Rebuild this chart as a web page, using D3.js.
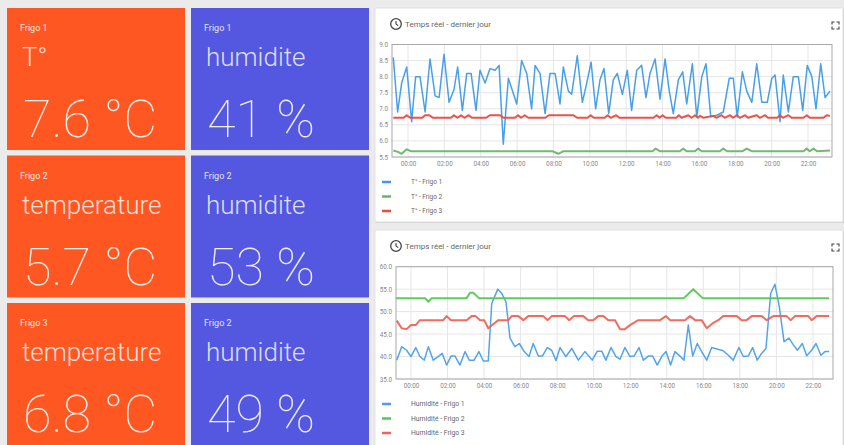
<!DOCTYPE html>
<html><head><meta charset="utf-8">
<script src="https://cdn.jsdelivr.net/npm/d3@7"></script>
<style>
html,body{margin:0;padding:0;background:#ececec;}
svg{display:block;font-family:Roboto,"Noto Sans",sans-serif;}
</style></head>
<body>
<svg id="c" width="844" height="445"></svg>
<script>
// ---------- tiles ----------
const tileLabels = ["Frigo 1","Frigo 1","Frigo 2","Frigo 2","Frigo 3","Frigo 2"];
const tileTitles = ["T°","humidite","temperature","humidite","temperature","humidite"];
const tileValues = ["7.6 °C","41 %","5.7 °C","53 %","6.8 °C","49 %"];
const tileKinds  = ["temp","hum","temp","hum","temp","hum"];

// ---------- temperature chart (hours relative to 00:00) ----------
const tempTitle = "Temps réel - dernier jour";
const tempYTicks = [5.5,6.0,6.5,7.0,7.5,8.0,8.5,9.0];
const tempNames = ["T° - Frigo 1","T° - Frigo 2","T° - Frigo 3"];
const temp1 = [[-0.81,8.6],[-0.57,6.9],[-0.35,7.8],[-0.07,8.3],[0.20,6.6],[0.42,8.0],[0.66,8.0],[0.94,6.9],[1.21,8.55],[1.49,7.4],[1.71,7.35],[1.98,8.7],[2.26,7.2],[2.53,7.6],[2.73,8.3],[2.99,6.95],[3.23,8.1],[3.47,8.1],[3.74,6.95],[3.96,8.2],[4.24,7.8],[4.51,8.25],[4.79,8.2],[5.01,8.35],[5.24,5.9],[5.52,7.95],[5.98,7.15],[6.25,8.5],[6.53,8.1],[6.80,7.0],[6.99,8.35],[7.26,8.1],[7.54,6.85],[7.81,8.1],[8.09,8.1],[8.36,7.15],[8.54,8.3],[8.82,7.55],[9.00,7.45],[9.31,8.65],[9.59,7.2],[9.83,7.8],[10.07,8.45],[10.32,7.0],[10.56,7.9],[10.78,8.25],[11.04,6.85],[11.29,7.9],[11.51,8.1],[11.79,7.45],[12.06,8.2],[12.30,6.95],[12.58,8.2],[12.85,8.35],[13.09,7.35],[13.31,8.1],[13.59,8.55],[13.86,7.3],[14.14,8.55],[14.37,7.55],[14.59,6.85],[14.87,7.9],[15.11,8.15],[15.33,7.15],[15.64,8.4],[15.88,6.75],[16.16,8.0],[16.39,8.4],[16.65,6.75],[16.98,6.8],[17.34,6.9],[17.67,7.95],[17.89,7.95],[18.11,6.75],[18.39,8.15],[18.63,7.55],[18.91,7.2],[19.18,8.4],[19.46,7.2],[19.76,7.2],[20.01,7.95],[20.19,8.05],[20.46,6.6],[20.64,8.05],[20.92,6.9],[21.19,8.0],[21.47,8.0],[21.71,6.95],[21.96,8.35],[22.21,8.0],[22.44,7.0],[22.70,8.4],[22.94,7.35],[23.21,7.55]];
const temp2 = [[-0.81,5.7],[-0.55,5.66],[-0.35,5.6],[-0.07,5.74],[0.15,5.68],[7.95,5.68],[8.27,5.6],[8.55,5.68],[13.45,5.68],[13.62,5.76],[13.85,5.68],[14.95,5.68],[15.14,5.76],[15.32,5.68],[15.78,5.68],[15.96,5.76],[16.15,5.68],[17.15,5.68],[17.34,5.76],[17.55,5.68],[18.4,5.68],[18.63,5.76],[18.9,5.68],[21.75,5.68],[21.93,5.76],[22.1,5.68],[22.3,5.76],[22.5,5.68],[23.21,5.7]];
const temp3 = [[-0.81,6.72],[-0.25,6.72],[-0.07,6.8],[0.12,6.72],[0.78,6.72],[0.94,6.8],[1.18,6.8],[1.36,6.72],[2.36,6.72],[2.53,6.8],[2.72,6.72],[2.92,6.8],[3.1,6.72],[3.33,6.8],[3.52,6.72],[4.3,6.72],[4.5,6.8],[5.06,6.8],[5.26,6.72],[5.88,6.72],[6.05,6.8],[6.22,6.72],[6.42,6.8],[6.62,6.72],[7.55,6.72],[7.75,6.8],[9.1,6.8],[9.3,6.72],[9.88,6.72],[10.05,6.8],[10.22,6.72],[10.82,6.72],[10.98,6.8],[11.15,6.72],[11.45,6.8],[11.62,6.72],[13.5,6.72],[13.68,6.8],[13.84,6.72],[14.0,6.8],[14.18,6.72],[14.75,6.72],[14.9,6.8],[15.05,6.72],[15.42,6.8],[15.6,6.72],[15.79,6.8],[15.95,6.72],[16.06,6.78],[16.25,6.72],[16.79,6.78],[16.95,6.72],[17.25,6.8],[17.42,6.72],[17.71,6.8],[17.88,6.72],[18.08,6.8],[18.25,6.72],[18.54,6.8],[18.7,6.72],[19.18,6.8],[19.35,6.72],[19.64,6.8],[19.8,6.72],[20.3,6.72],[20.46,6.8],[20.62,6.72],[20.92,6.8],[21.1,6.72],[21.75,6.72],[21.93,6.8],[22.1,6.72],[22.85,6.72],[23.03,6.8],[23.21,6.78]];

// ---------- humidity chart ----------
const humTitle = "Temps réel - dernier jour";
const humYTicks = [35,40,45,50,55,60];
const humNames = ["Humidité - Frigo 1","Humidité - Frigo 2","Humidité - Frigo 3"];
const hum1 = [[-0.78,39.2],[-0.51,42.2],[-0.24,41.4],[0,40.0],[0.26,42.0],[0.49,40.0],[0.73,39.2],[0.95,42.2],[1.22,39.2],[1.49,40.0],[1.71,40.7],[1.95,38.1],[2.19,40.1],[2.41,40.1],[2.68,38.1],[2.96,41.1],[3.19,39.2],[3.46,39.2],[3.72,41.1],[3.96,39.0],[4.23,39.0],[4.42,51.8],[4.75,55.0],[4.96,54.1],[5.20,52.2],[5.42,44.1],[5.69,42.2],[5.93,42.9],[6.20,41.1],[6.46,40.0],[6.69,42.9],[6.97,40.1],[7.19,40.1],[7.46,42.0],[7.70,41.4],[7.94,39.1],[8.16,42.0],[8.48,40.0],[8.80,41.8],[9.16,39.2],[9.52,41.1],[9.92,39.2],[10.20,41.2],[10.44,41.2],[10.67,39.2],[10.95,42.0],[11.22,40.0],[11.44,39.4],[11.71,42.0],[11.99,40.0],[12.21,40.1],[12.48,42.0],[12.72,39.2],[12.99,40.1],[13.23,40.1],[13.48,38.1],[13.72,40.0],[13.96,41.1],[14.21,38.1],[14.45,41.1],[14.72,40.1],[14.94,39.2],[15.18,47.0],[15.42,40.1],[15.67,42.9],[15.91,41.1],[16.19,39.2],[16.46,42.0],[17.09,41.3],[17.37,40.3],[17.64,39.2],[17.95,42.0],[18.19,40.0],[18.46,40.1],[18.70,42.0],[18.95,39.2],[19.19,40.7],[19.43,41.8],[19.69,54.1],[19.92,56.1],[20.16,51.1],[20.42,43.3],[20.69,44.1],[20.93,42.6],[21.15,41.4],[21.42,42.9],[21.66,40.2],[21.93,41.4],[22.17,42.9],[22.44,40.3],[22.66,41.1],[22.89,41.1]];
const hum2 = [[-0.82,53.0],[0.77,53.0],[0.95,52.2],[1.13,53.0],[3.05,53.0],[3.23,54.2],[3.41,54.2],[3.72,53.0],[14.94,53.0],[15.45,55.0],[15.97,53.0],[22.89,53.0]];
const hum3 = [[-0.78,48.0],[-0.51,46.3],[-0.24,46.1],[0.0,47.0],[0.26,47.0],[0.49,48.1],[1.77,48.1],[1.95,49.0],[2.19,48.1],[3.05,48.1],[3.32,49.0],[3.54,49.0],[3.78,48.1],[4.01,48.1],[4.23,46.3],[4.50,47.2],[4.78,48.1],[5.33,48.1],[5.51,49.0],[5.87,49.0],[6.15,48.1],[6.42,49.0],[7.24,49.0],[7.48,48.1],[7.70,49.0],[8.43,49.0],[8.66,48.1],[8.92,49.0],[9.43,49.0],[9.70,48.1],[9.98,48.1],[10.25,49.0],[10.53,49.0],[10.80,48.1],[11.17,48.1],[11.44,46.1],[11.71,46.1],[11.99,47.0],[12.44,48.1],[13.63,48.1],[13.96,49.0],[14.18,48.1],[15.00,48.1],[15.27,49.0],[15.55,48.1],[15.91,48.1],[16.19,46.3],[16.55,47.5],[16.82,48.1],[17.09,49.0],[17.83,49.0],[18.10,48.1],[18.37,48.1],[18.65,49.0],[19.20,49.0],[19.47,48.1],[19.83,49.0],[20.56,49.0],[20.78,48.1],[21.02,49.0],[21.75,49.0],[21.93,48.1],[22.20,49.0],[22.89,49.0]];

const base = new Date(2024,0,2,0,0,0);
const toDate = h => new Date(base.getTime() + h*3600000);

const svg = d3.select("#c");
svg.append("rect").attr("width",844).attr("height",445).attr("fill","#ebebeb");

// tiles
const tileColor = {temp:"#FF5722", hum:"#5457E0"};
tileLabels.forEach((lab,i)=>{
  const r = Math.floor(i/2), c = i%2;
  const x = 7 + c*184, y = 8 + r*147.5;
  const g = svg.append("g").attr("transform",`translate(${x},${y})`);
  g.append("rect").attr("width",178).attr("height",142).attr("fill",tileColor[tileKinds[i]]);
  g.append("text").attr("x",13).attr("y",23).attr("font-size",9).attr("font-weight",400)
    .attr("fill","rgba(255,255,255,0.88)").text(lab);
  g.append("text").attr("x",15).attr("y",58).attr("font-size",26).attr("font-weight",300)
    .attr("fill","rgba(255,255,255,0.82)").text(tileTitles[i]);
  g.append("text").attr("x",16).attr("y",129).attr("font-size",52).attr("font-weight",100)
    .attr("fill","rgba(255,255,255,0.9)").text(tileValues[i]);
});

function drawCard(cfg){
  const g = svg.append("g");
  g.append("rect").attr("x",cfg.cx+1).attr("y",cfg.cy+1).attr("width",cfg.cw).attr("height",cfg.ch).attr("fill","#d2d2d2");
  g.append("rect").attr("x",cfg.cx).attr("y",cfg.cy).attr("width",cfg.cw).attr("height",cfg.ch)
    .attr("fill","#fff").attr("stroke","#dcdcdc").attr("stroke-width",0.8);
  const ic = g.append("g").attr("transform",`translate(${cfg.cx+21},${cfg.cy+16})`);
  ic.append("circle").attr("r",5.3).attr("fill","none").attr("stroke","#444").attr("stroke-width",1.3);
  ic.append("path").attr("d","M0,-3 V0 L2.2,1.6").attr("fill","none").attr("stroke","#444").attr("stroke-width",1.1);
  g.append("text").attr("x",cfg.cx+30).attr("y",cfg.cy+19).attr("font-size",8).attr("fill","#666").text(cfg.title);
  const ex = g.append("g").attr("transform",`translate(${cfg.cx+457},${cfg.cy+14})`).attr("stroke","#444").attr("stroke-width",1.1).attr("fill","none");
  ex.append("path").attr("d","M0,2.5 V0 H2.5 M4.5,0 H7 V2.5 M7,4.5 V7 H4.5 M2.5,7 H0 V4.5");

  const x = d3.scaleTime().domain(cfg.xDomain.map(toDate)).range([cfg.left,cfg.right]);
  const y = d3.scaleLinear().domain([cfg.yTicks[0],cfg.yTicks[cfg.yTicks.length-1]]).range([cfg.bottom,cfg.top]);
  const xt = x.ticks(d3.timeHour.every(2));
  g.append("g").selectAll("line").data(cfg.yTicks).join("line")
    .attr("x1",cfg.left).attr("x2",cfg.right).attr("y1",d=>y(d)).attr("y2",d=>y(d))
    .attr("stroke","#e6e6e6").attr("stroke-width",1);
  g.append("g").selectAll("line").data(xt).join("line")
    .attr("x1",d=>x(d)).attr("x2",d=>x(d)).attr("y1",cfg.top).attr("y2",cfg.bottom)
    .attr("stroke","#e6e6e6").attr("stroke-width",1);
  const ya = g.append("g").attr("transform",`translate(${cfg.left},0)`)
    .call(d3.axisLeft(y).tickValues(cfg.yTicks).tickFormat(d3.format(".1f")).tickSize(0).tickPadding(4));
  const xa = g.append("g").attr("transform",`translate(0,${cfg.bottom})`)
    .call(d3.axisBottom(x).tickValues(xt).tickFormat(d3.timeFormat("%H:%M")).tickSize(0).tickPadding(5));
  [ya,xa].forEach(a=>{a.select(".domain").remove(); a.selectAll("text").attr("font-size",6.3).attr("fill","#888").attr("font-family","Roboto,sans-serif");});
  g.append("rect").attr("x",cfg.left).attr("y",cfg.top).attr("width",cfg.right-cfg.left).attr("height",cfg.bottom-cfg.top)
    .attr("fill","none").attr("stroke","#a8a8a8").attr("stroke-width",1);
  const line = d3.line().x(d=>x(toDate(d[0]))).y(d=>y(d[1]));
  cfg.series.forEach((s,i)=>{
    g.append("path").datum(s).attr("d",line).attr("fill","none")
      .attr("stroke",cfg.colors[i]).attr("stroke-width",cfg.widths[i]).attr("stroke-linejoin","round").attr("opacity",0.95);
  });
  cfg.names.forEach((n,i)=>{
    const ly = cfg.legendY + i*cfg.legendStep;
    g.append("line").attr("x1",cfg.cx+7).attr("x2",cfg.cx+16).attr("y1",ly).attr("y2",ly)
      .attr("stroke",cfg.colors[i]).attr("stroke-width",2.5);
    g.append("text").attr("x",cfg.cx+36).attr("y",ly+2.3).attr("font-size",cfg.legendFont).attr("fill","#666").text(n);
  });
}

drawCard({cx:375, cy:8, cw:468, ch:214, title:tempTitle,
  left:392, right:832, top:44.5, bottom:157,
  xDomain:[-0.88,23.32], yTicks:tempYTicks,
  series:[temp1,temp2,temp3], names:tempNames,
  colors:["#3E9BE8","#6AB56A","#EA4A40"], widths:[1.5,2,2],
  legendY:182, legendStep:14.5, legendFont:6.5});

drawCard({cx:375, cy:230, cw:468, ch:220, title:humTitle,
  left:396, right:833, top:266.7, bottom:379,
  xDomain:[-0.82,23.1], yTicks:humYTicks,
  series:[hum1,hum2,hum3], names:humNames,
  colors:["#4A9FE8","#55C955","#EE6456"], widths:[1.5,2,2],
  legendY:404, legendStep:14.5, legendFont:6.8});
</script>
</body></html>
